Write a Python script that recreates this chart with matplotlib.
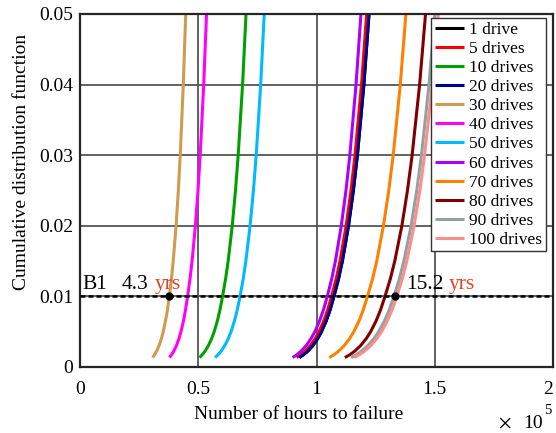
import numpy as np
import matplotlib
matplotlib.use('Agg')
import matplotlib.pyplot as plt

#----Data (hours to failure in units of 1e5, read at fixed CDF levels)----
cdf_levels = [0.0013, 0.0017, 0.0022, 0.003, 0.004, 0.005, 0.0065, 0.008,
              0.01, 0.0125, 0.015, 0.02, 0.025, 0.03, 0.04, 0.05]

drives_labels = ['1 drive', '5 drives', '10 drives', '20 drives', '30 drives', '40 drives',
                 '50 drives', '60 drives', '70 drives', '80 drives', '90 drives', '100 drives']

hours_1 = [0.927, 0.9451, 0.9628, 0.9846, 1.0053, 1.0216, 1.0411, 1.0568,
           1.074, 1.0934, 1.1095, 1.1354, 1.1559, 1.1729, 1.2003, 1.222]
hours_5 = [0.916, 0.9342, 0.9521, 0.9740, 0.9947, 1.0112, 1.0309, 1.0467,
           1.064, 1.0834, 1.0995, 1.1254, 1.1459, 1.1629, 1.1903, 1.212]
hours_10 = [0.505, 0.5169, 0.5287, 0.5431, 0.5568, 0.5677, 0.5808, 0.5914,
            0.603, 0.6158, 0.6265, 0.6438, 0.6575, 0.6689, 0.6874, 0.702]
hours_20 = [0.927, 0.9451, 0.9628, 0.9846, 1.0053, 1.0216, 1.0411, 1.0568,
            1.074, 1.0934, 1.1095, 1.1354, 1.1559, 1.1729, 1.2003, 1.222]
hours_30 = [0.307, 0.3155, 0.3239, 0.3343, 0.3443, 0.3522, 0.3617, 0.3695,
            0.378, 0.3869, 0.3943, 0.4063, 0.4159, 0.4239, 0.4367, 0.447]
hours_40 = [0.378, 0.3873, 0.3965, 0.4079, 0.4186, 0.4272, 0.4375, 0.4459,
            0.455, 0.4653, 0.4740, 0.4879, 0.4990, 0.5082, 0.5231, 0.535]
hours_50 = [0.571, 0.5839, 0.5966, 0.6123, 0.6272, 0.6389, 0.6531, 0.6645,
            0.677, 0.6903, 0.7014, 0.7192, 0.7333, 0.7451, 0.7640, 0.779]
hours_60 = [0.899, 0.9171, 0.9348, 0.9566, 0.9772, 0.9936, 1.0130, 1.0288,
            1.046, 1.0646, 1.0801, 1.1049, 1.1247, 1.1410, 1.1672, 1.188]
hours_70 = [1.054, 1.0740, 1.0935, 1.1176, 1.1404, 1.1583, 1.1799, 1.1971,
            1.216, 1.2373, 1.2549, 1.2832, 1.3057, 1.3244, 1.3543, 1.378]
hours_80 = [1.120, 1.1410, 1.1615, 1.1868, 1.2107, 1.2295, 1.2521, 1.2702,
            1.290, 1.3125, 1.3311, 1.3611, 1.3847, 1.4044, 1.4360, 1.461]
hours_90 = [1.146, 1.1684, 1.1904, 1.2174, 1.2430, 1.2632, 1.2874, 1.3068,
            1.328, 1.3507, 1.3696, 1.4000, 1.4239, 1.4438, 1.4757, 1.501]
hours_100 = [1.159, 1.1813, 1.2032, 1.2300, 1.2555, 1.2755, 1.2995, 1.3190,
             1.340, 1.3630, 1.3821, 1.4128, 1.4370, 1.4571, 1.4894, 1.515]

all_hours = [hours_1, hours_5, hours_10, hours_20, hours_30, hours_40,
             hours_50, hours_60, hours_70, hours_80, hours_90, hours_100]

colors = ['#000000', '#ff0000', '#00a000', '#00008c', '#d09a50', '#ff00ff',
          '#00baff', '#aa00ff', '#ff8000', '#800000', '#8fa3a3', '#ff8c8c']

b1_level = 0.01
b1_years = [4.3, 15.2]
hours_per_year = 8760

xticks = [0, 0.5, 1, 1.5, 2]
yticks = [0, 0.01, 0.02, 0.03, 0.04, 0.05]

#----Plot----
plt.rcParams['font.family'] = 'Liberation Serif'
plt.rcParams['mathtext.fontset'] = 'stix'

fig = plt.figure(figsize=(5.56, 4.33), dpi=100)
ax = fig.add_axes([80/556, 1 - 366.7/433, 473/556, 352.7/433])

for hrs, lab, col in zip(all_hours, drives_labels, colors):
    ax.plot(hrs, cdf_levels, color=col, lw=2.2, label=lab, solid_capstyle='butt')

ax.axhline(b1_level, color='black', lw=1.8, ls=(0, (2.0, 1.2)), zorder=5)
b1_x = [y * hours_per_year / 1e5 for y in b1_years]
ax.plot(b1_x, [b1_level] * len(b1_x), 'o', color='black', ms=5, zorder=6)

yrs_red = '#dc4524'
ax.text(0.0115, 0.011, 'B1', fontsize=15.5, va='baseline')
ax.text(0.176, 0.011, '4.3', fontsize=15.5, va='baseline')
ax.text(0.314, 0.011, 'yrs', fontsize=15.5, va='baseline', color=yrs_red)
ax.text(1.378, 0.011, '15.2', fontsize=15.5, va='baseline')
ax.text(1.557, 0.011, 'yrs', fontsize=15.5, va='baseline', color=yrs_red)

ax.set_xlim(0, 2)
ax.set_ylim(0, 0.05)
ax.set_xticks(xticks)
ax.set_xticklabels(['0', '0.5', '1', '1.5', '2'])
ax.get_xticklabels()[-1].set_ha('right')
ax.set_yticks(yticks)
ax.set_yticklabels(['0', '0.01', '0.02', '0.03', '0.04', '0.05'])
ax.tick_params(labelsize=14, length=0, pad=5)
ax.tick_params(axis='x', pad=10)
ax.grid(True, color='#555555', lw=1.3)
ax.set_axisbelow(True)
for s in ax.spines.values():
    s.set_color('#262626')
    s.set_linewidth(1.6)

ax.set_xlabel('Number of hours to failure', fontsize=14)
ax.xaxis.set_label_coords(0.463, -0.136)
ax.xaxis.label.set_va('center')
ax.set_ylabel('Cumulative distribution function', fontsize=14)
ax.yaxis.set_label_coords(-0.123, 0.58)
ax.yaxis.label.set_va('center')

fig.text(498/556, (433 - 428)/433, r'$\times$', fontsize=14, va='baseline')
fig.text(523/556, (433 - 428)/433, '10', fontsize=14, va='baseline')
fig.text(544/556, (433 - 414)/433, '5', fontsize=10.5, va='baseline')

leg = ax.legend(loc='upper right', bbox_to_anchor=(0.985, 0.988), fontsize=12.5,
                handlelength=1.7, handletextpad=0.3, borderpad=0.2, labelspacing=0.17,
                borderaxespad=0, fancybox=False, framealpha=1, edgecolor='#333333')
leg.get_frame().set_linewidth(1.0)

fig.savefig('out.png', dpi=100)
